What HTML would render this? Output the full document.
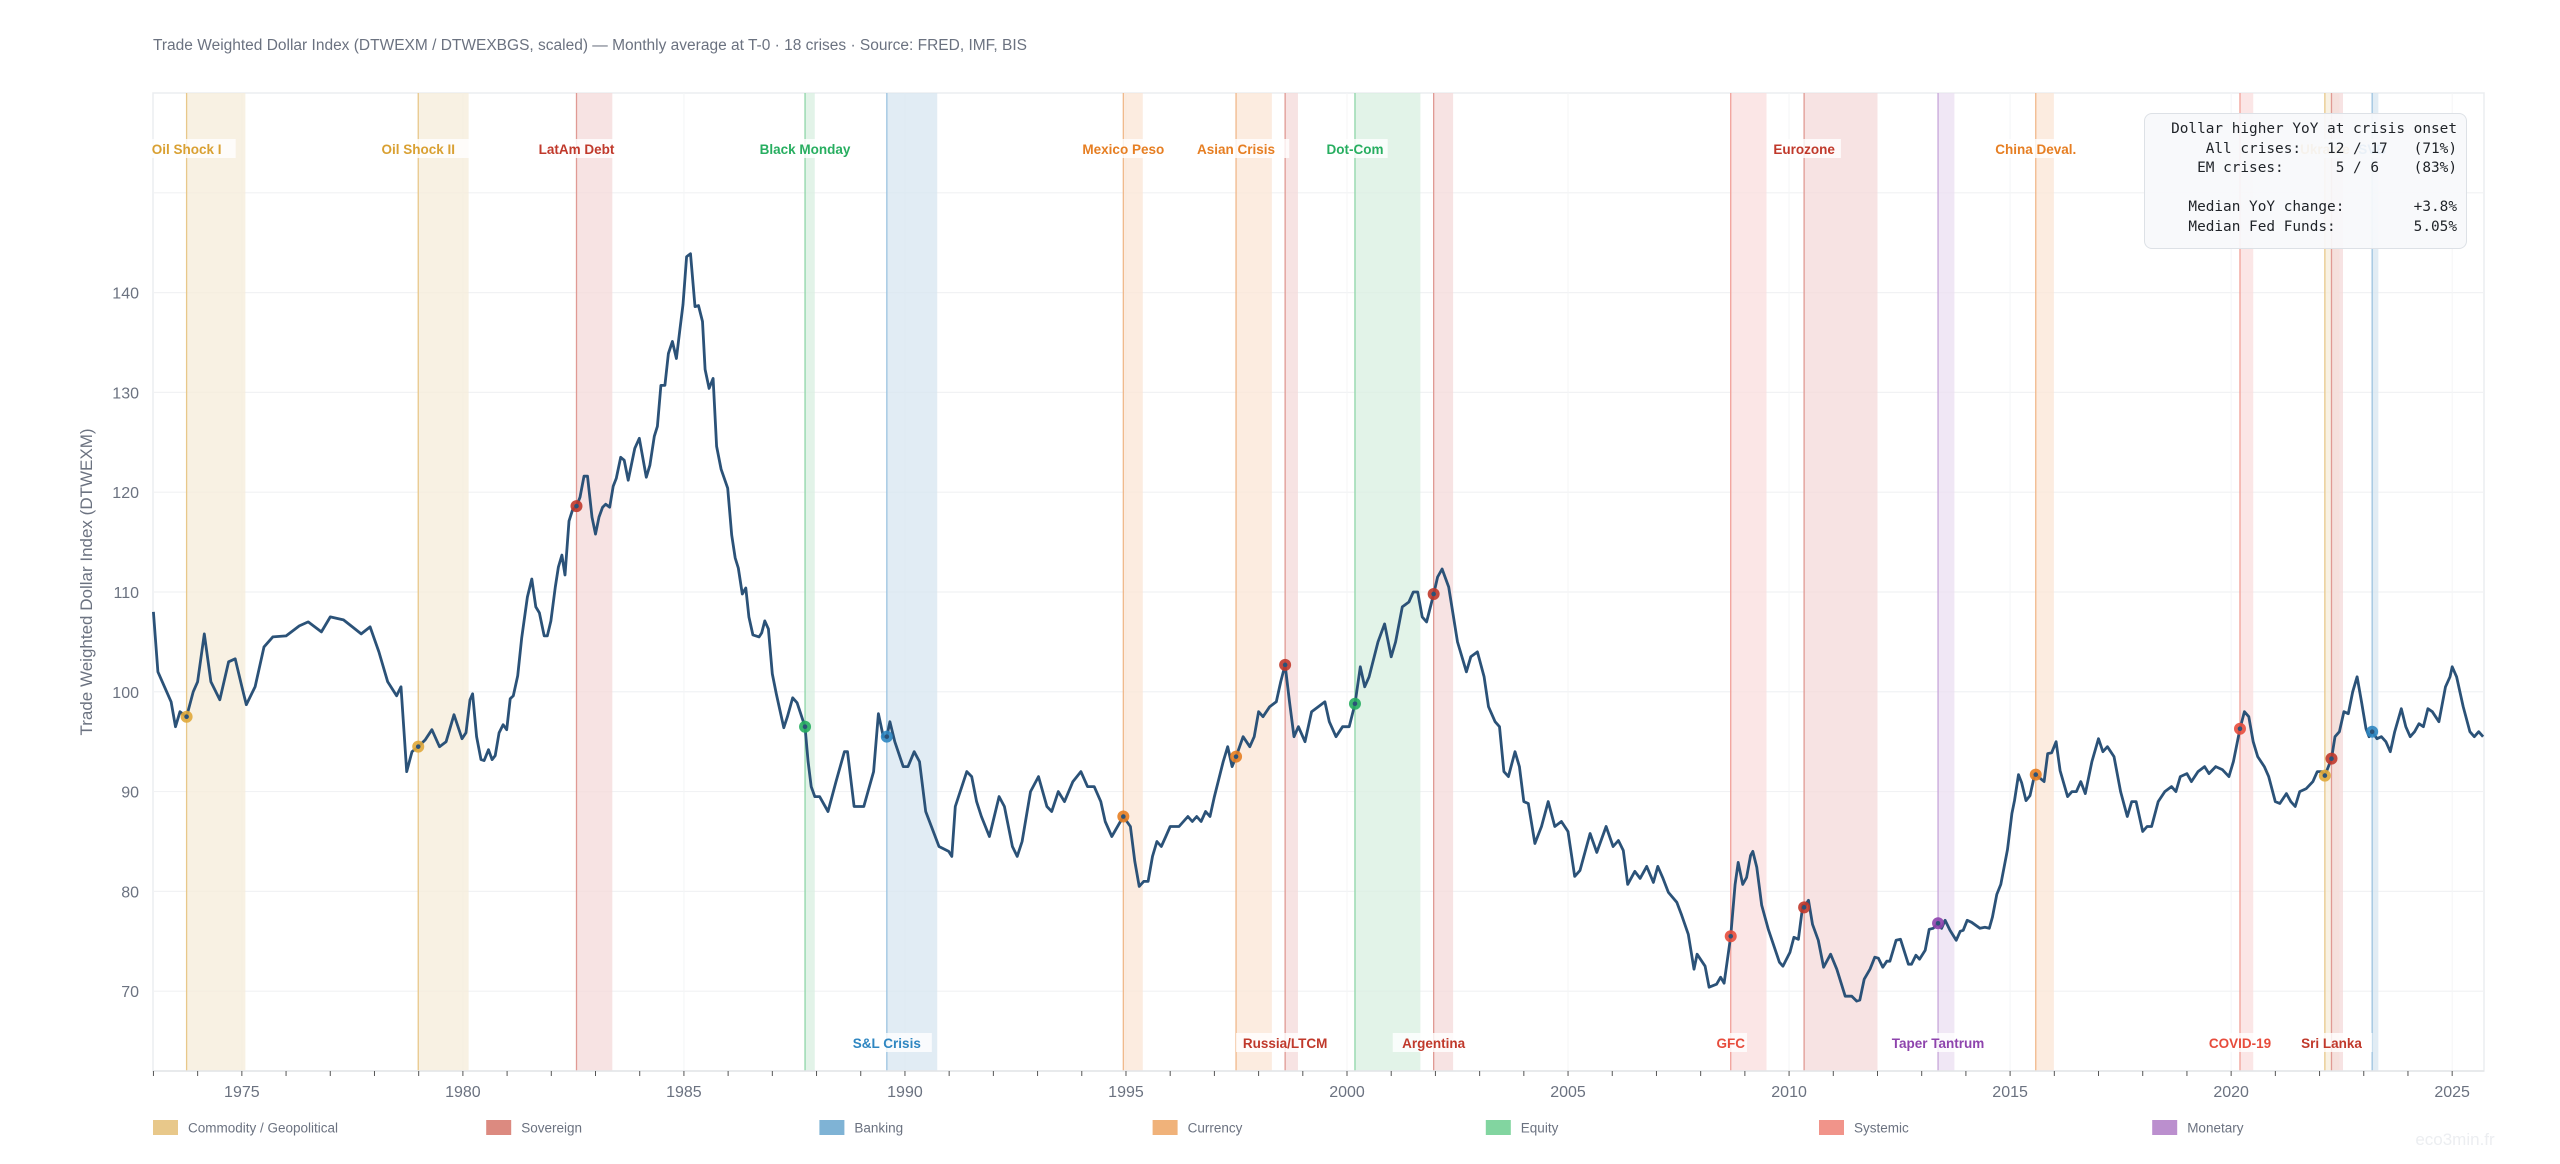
<!DOCTYPE html>
<html><head><meta charset="utf-8">
<style>
html,body{margin:0;padding:0;background:#fff;}
body{width:2560px;height:1164px;overflow:hidden;position:relative;font-family:"Liberation Sans","DejaVu Sans",sans-serif;}
svg{position:absolute;left:0;top:0;}
#stats{position:absolute;left:2144px;top:113px;width:323px;height:136px;box-sizing:border-box;background:rgba(248,249,251,0.93);border:1.5px solid #dde1e6;border-radius:8px;}
#stats pre{margin:0;position:absolute;right:9px;top:6px;font-family:"DejaVu Sans Mono","Liberation Mono",monospace;font-size:14.4px;line-height:19.6px;color:#1f2328;text-align:right;}
</style></head>
<body>
<svg id="chart" width="2560" height="1164"></svg>
<div id="stats"><pre>Dollar higher YoY at crisis onset
All crises:   12 / 17   (71%)
EM crises:      5 / 6    (83%)

Median YoY change:        +3.8%
Median Fed Funds:         5.05%</pre></div>
<script>
const years=[
1973.0,1973.1,1973.25,1973.4,1973.5,1973.6,1973.75,1973.9,1974.0,1974.15,
1974.3,1974.5,1974.7,1974.85,1975.0,1975.1,1975.3,1975.5,1975.7,1976.0,
1976.3,1976.5,1976.8,1977.0,1977.3,1977.5,1977.7,1977.9,1978.1,1978.3,
1978.5,1978.6,1978.73,1978.85,1978.99,1979.15,1979.3,1979.47,1979.62,1979.8,
1979.98,1980.07,1980.16,1980.22,1980.31,1980.41,1980.48,1980.58,1980.66,1980.73,
1980.82,1980.91,1980.99,1981.07,1981.14,1981.24,1981.33,1981.46,1981.56,1981.65,
1981.73,1981.84,1981.91,1981.99,1982.09,1982.16,1982.24,1982.31,1982.4,1982.48,
1982.57,1982.65,1982.74,1982.82,1982.92,1983.0,1983.08,1983.16,1983.23,1983.32,
1983.4,1983.47,1983.57,1983.65,1983.74,1983.89,1983.99,1984.15,1984.23,1984.33,
1984.4,1984.48,1984.57,1984.65,1984.74,1984.83,1984.91,1984.98,1985.06,1985.15,
1985.25,1985.33,1985.42,1985.48,1985.57,1985.66,1985.74,1985.84,1985.99,1986.08,
1986.16,1986.23,1986.32,1986.4,1986.47,1986.56,1986.7,1986.76,1986.83,1986.91,
1987.0,1987.09,1987.17,1987.26,1987.34,1987.46,1987.56,1987.74,1987.81,1987.88,
1987.96,1988.07,1988.26,1988.44,1988.63,1988.7,1988.85,1988.99,1989.07,1989.29,
1989.4,1989.51,1989.59,1989.66,1989.77,1989.96,1990.07,1990.21,1990.33,1990.47,
1990.77,1990.99,1991.06,1991.14,1991.25,1991.4,1991.51,1991.62,1991.73,1991.91,
1992.13,1992.25,1992.43,1992.54,1992.65,1992.84,1993.02,1993.21,1993.32,1993.47,
1993.61,1993.8,1993.98,1994.13,1994.28,1994.43,1994.53,1994.68,1994.94,1995.1,
1995.2,1995.3,1995.4,1995.5,1995.6,1995.7,1995.8,1995.9,1996.0,1996.2,
1996.4,1996.5,1996.6,1996.7,1996.8,1996.9,1997.0,1997.2,1997.3,1997.4,
1997.49,1997.65,1997.8,1997.9,1998.0,1998.1,1998.25,1998.4,1998.5,1998.6,
1998.7,1998.8,1998.9,1999.05,1999.2,1999.35,1999.5,1999.6,1999.75,1999.9,
2000.05,2000.18,2000.3,2000.4,2000.5,2000.7,2000.85,2001.0,2001.1,2001.25,
2001.4,2001.5,2001.6,2001.7,2001.8,2001.96,2002.05,2002.15,2002.3,2002.5,
2002.7,2002.8,2002.95,2003.1,2003.2,2003.35,2003.45,2003.55,2003.65,2003.8,
2003.9,2004.0,2004.1,2004.25,2004.4,2004.55,2004.7,2004.85,2005.0,2005.15,
2005.27,2005.5,2005.65,2005.86,2006.02,2006.14,2006.25,2006.35,2006.51,2006.63,
2006.78,2006.93,2007.03,2007.14,2007.27,2007.46,2007.57,2007.72,2007.85,2007.92,
2008.1,2008.19,2008.36,2008.45,2008.53,2008.68,2008.78,2008.85,2008.95,2009.04,
2009.13,2009.18,2009.27,2009.38,2009.53,2009.78,2009.86,2010.02,2010.11,2010.21,
2010.31,2010.34,2010.44,2010.53,2010.66,2010.78,2010.94,2011.08,2011.27,2011.42,
2011.53,2011.6,2011.7,2011.83,2011.94,2012.02,2012.12,2012.21,2012.28,2012.42,
2012.52,2012.7,2012.77,2012.87,2012.95,2013.08,2013.17,2013.26,2013.37,2013.45,
2013.53,2013.64,2013.78,2013.87,2013.94,2014.03,2014.13,2014.32,2014.43,2014.53,
2014.6,2014.7,2014.79,2014.94,2015.04,2015.1,2015.19,2015.26,2015.36,2015.45,
2015.54,2015.58,2015.77,2015.85,2015.94,2016.04,2016.13,2016.3,2016.4,2016.5,
2016.6,2016.7,2016.85,2017.0,2017.1,2017.2,2017.35,2017.5,2017.65,2017.75,
2017.85,2018.0,2018.1,2018.2,2018.35,2018.5,2018.65,2018.75,2018.85,2019.0,
2019.1,2019.25,2019.4,2019.5,2019.65,2019.8,2019.95,2020.05,2020.2,2020.3,
2020.4,2020.5,2020.6,2020.75,2020.85,2021.0,2021.1,2021.25,2021.35,2021.45,
2021.55,2021.7,2021.85,2021.95,2022.05,2022.12,2022.27,2022.35,2022.45,2022.55,
2022.65,2022.75,2022.85,2022.95,2023.05,2023.12,2023.19,2023.3,2023.4,2023.5,
2023.6,2023.7,2023.85,2023.95,2024.05,2024.15,2024.25,2024.35,2024.45,2024.55,
2024.7,2024.85,2024.95,2025.0,2025.1,2025.25,2025.4,2025.5,2025.6,2025.7];
const values=[
108,102,100.5,99,96.5,98,97.5,100,101,105.8,
101,99.2,103,103.3,100.5,98.7,100.5,104.5,105.5,105.6,
106.6,107,106,107.5,107.2,106.5,105.8,106.5,104,101,
99.6,100.5,92,94,94.5,95.2,96.2,94.5,95,97.7,
95.3,95.9,99.2,99.8,95.5,93.2,93.1,94.2,93.2,93.6,
95.9,96.7,96.2,99.3,99.6,101.6,105.4,109.5,111.3,108.5,
107.9,105.6,105.6,107.1,110.5,112.5,113.7,111.7,117.1,118.2,
118.6,119.5,121.6,121.6,117.5,115.8,117.5,118.5,118.8,118.5,
120.6,121.4,123.5,123.2,121.2,124.4,125.4,121.5,122.7,125.6,
126.6,130.7,130.7,133.9,135.1,133.4,136.3,138.8,143.6,143.9,
138.6,138.7,137.1,132.3,130.4,131.4,124.6,122.3,120.4,115.7,
113.4,112.4,109.8,110.4,107.5,105.7,105.5,105.9,107.1,106.3,
101.8,99.8,98.2,96.4,97.5,99.4,98.9,96.5,93,90.5,
89.5,89.5,88,91,94,94,88.5,88.5,88.5,92,
97.8,95.5,95.5,97,95,92.5,92.5,94,93,88,
84.5,84,83.5,88.5,90,92,91.5,89,87.5,85.5,
89.5,88.5,84.5,83.5,85,90,91.5,88.5,88,90,
89,91,92,90.5,90.5,89,87,85.5,87.5,86.5,
83,80.5,81,81,83.5,85,84.5,85.5,86.5,86.5,
87.5,87,87.5,87,88,87.5,89.5,93,94.5,92.5,
93.5,95.5,94.5,95.5,98,97.5,98.5,99,101,102.7,
99,95.5,96.5,95,98,98.5,99,97,95.5,96.5,
96.5,98.8,102.5,100.5,101.5,105,106.8,103.5,105,108.5,
109,110,110,107.5,107,109.8,111.5,112.3,110.5,105,
102,103.5,104,101.5,98.5,97,96.5,92,91.5,94,
92.5,89,88.8,84.8,86.5,89,86.5,87,86,81.5,
82.1,85.8,83.9,86.5,84.5,85.1,84.1,80.7,82,81.3,
82.5,80.9,82.5,81.4,79.9,78.9,77.6,75.7,72.2,73.7,
72.5,70.4,70.7,71.4,70.8,75.5,80.7,82.9,80.7,81.4,
83.6,84,82.4,78.6,76.2,72.9,72.5,73.9,75.4,75.2,
78.6,78.4,79.1,76.7,75.1,72.4,73.7,72.2,69.5,69.5,
69,69.1,71.2,72.2,73.4,73.3,72.4,73,73,75.1,
75.2,72.7,72.7,73.6,73.2,74.1,76.2,76.3,76.8,76.3,
77.1,76.1,75.1,76,76.1,77.1,76.9,76.3,76.4,76.3,
77.4,79.7,80.7,84.2,87.8,89.1,91.7,90.9,89.1,89.6,
91.4,91.7,91,93.8,93.9,95,92.1,89.5,90,90,
91,89.8,93,95.3,94,94.5,93.5,90,87.5,89,
89,86,86.5,86.5,89,90,90.5,90,91.5,91.8,
91,92,92.5,91.8,92.5,92.2,91.5,93,96.3,98,
97.5,95,93.5,92.5,91.5,89,88.8,89.8,89,88.5,
90,90.3,91,92,92,91.6,93.3,95.5,96,98,
97.8,100,101.5,99,96.3,95.5,96,95.3,95.5,95,
94,96,98.3,96.5,95.5,96,96.8,96.5,98.3,98,
97,100.5,101.5,102.5,101.5,98.5,96,95.5,96,95.5];
const crisisNames=["Oil Shock I","Oil Shock II","LatAm Debt","Black Monday","S&L Crisis","Mexico Peso","Asian Crisis","Russia/LTCM","Dot-Com","Argentina","GFC","Eurozone","Taper Tantrum","China Deval.","COVID-19","Ukraine","Sri Lanka","SVB"];
const crisisStart=[1973.75,1978.99,1982.57,1987.74,1989.59,1994.94,1997.49,1998.6,2000.18,2001.96,2008.68,2010.34,2013.37,2015.58,2020.2,2022.12,2022.27,2023.19];
const crisisEnd=[1975.08,1980.13,1983.38,1987.96,1990.73,1995.38,1998.3,1998.89,2001.66,2002.4,2009.49,2012.0,2013.74,2015.99,2020.5,2022.45,2022.53,2023.33];
const crisisType=["com","com","sov","eq","bank","cur","cur","sov","eq","sov","sys","sov","mon","cur","sys","com","sov","bank"];
const crisisLabelPos=["top","top","top","top","bottom","top","top","bottom","top","bottom","bottom","top","bottom","top","bottom","top","bottom","top"];
const yTicks=[70,80,90,100,110,120,130,140];
const xTicks=[1975,1980,1985,1990,1995,2000,2005,2010,2015,2020,2025];
const legendLabels=["Commodity / Geopolitical","Sovereign","Banking","Currency","Equity","Systemic","Monetary"];
const legendTypes=["com","sov","bank","cur","eq","sys","mon"];

const TYPE={com:{sw:"#e8c88a",fill:"#f5ecd9",line:"#e8c88a",txt:"#d9a032",mk:"#e0a83a"},
sov:{sw:"#dc8a80",fill:"#f4dada",line:"#e09a94",txt:"#c0392b",mk:"#c0392b"},
bank:{sw:"#7fb3d5",fill:"#d7e6f0",line:"#9cc3e0",txt:"#2e86c1",mk:"#2e86c1"},
cur:{sw:"#f0b27a",fill:"#fbe6d6",line:"#f0b88a",txt:"#e67e22",mk:"#e67e22"},
eq:{sw:"#82d5a0",fill:"#d8efe0",line:"#8fd6a8",txt:"#27ae60",mk:"#27ae60"},
sys:{sw:"#f1948a",fill:"#fadede",line:"#f1a098",txt:"#e74c3c",mk:"#e74c3c"},
mon:{sw:"#bb8fce",fill:"#ebdff2",line:"#c9a6da",txt:"#8e44ad",mk:"#8e44ad"}};

const L=153,R=2484,T=93,B=1071,X0=1972.99,X1=2025.72,Y0=62,Y1=160;
const x=v=>L+(v-X0)/(X1-X0)*(R-L);
const y=v=>B-(v-Y0)/(Y1-Y0)*(B-T);
const NS="http://www.w3.org/2000/svg";
const svg=document.getElementById("chart");
function mk(tag,attrs,parent){const e=document.createElementNS(NS,tag);for(const k in attrs)e.setAttribute(k,attrs[k]);(parent||svg).appendChild(e);return e;}
function interp(t){for(let i=1;i<years.length;i++){if(years[i]>=t){const f=(t-years[i-1])/(years[i]-years[i-1]);return values[i-1]+f*(values[i]-values[i-1]);}}return values[values.length-1];}

let t=mk("text",{x:153,y:50,"font-size":"15.5","fill":"#6b7280"});
t.textContent="Trade Weighted Dollar Index (DTWEXM / DTWEXBGS, scaled) — Monthly average at T-0  ·  18 crises  ·  Source: FRED, IMF, BIS";



let fr=mk("rect",{x:L,y:T,width:R-L,height:B-T,fill:"#fff",stroke:"#ebedf0","stroke-width":1.5});



[70,80,90,100,110,120,130,140,150].forEach(v=>{const g=mk("line",{x1:L,x2:R,y1:y(v),y2:y(v),stroke:"#f1f2f4","stroke-width":1.2});

});
xTicks.forEach(v=>{const g=mk("line",{x1:x(v),x2:x(v),y1:T,y2:B,stroke:"#f4f5f6","stroke-width":1});

});

crisisNames.forEach((n,i)=>{const c=TYPE[crisisType[i]];
const r=mk("rect",{x:x(crisisStart[i]),y:T,width:x(crisisEnd[i])-x(crisisStart[i]),height:B-T,fill:c.fill,opacity:0.75});


const ln=mk("line",{x1:x(crisisStart[i]),x2:x(crisisStart[i]),y1:T,y2:B,stroke:c.line,"stroke-width":1.3});

});

let d="";years.forEach((yr,i)=>{d+=(i?"L":"M")+x(yr).toFixed(1)+","+y(values[i]).toFixed(1);});
const path=mk("path",{d:d,fill:"none",stroke:"#2b5278","stroke-width":2.8,"stroke-linejoin":"round"});



crisisNames.forEach((n,i)=>{const c=TYPE[crisisType[i]];const v=interp(crisisStart[i]);
const o=mk("circle",{cx:x(crisisStart[i]),cy:y(v),r:6,fill:c.mk,opacity:0.9});


const ic=mk("circle",{cx:x(crisisStart[i]),cy:y(v),r:2.3,fill:"#2b5278"});

});

crisisNames.forEach((n,i)=>{const c=TYPE[crisisType[i]];const cx=x(crisisStart[i]);const cy=crisisLabelPos[i]==="top"?152:1046;
const w=n.length*8.2+8;
const bg=mk("rect",{x:cx-w/2,y:cy-13,width:w,height:19,fill:"#fff",opacity:0.8});


const tx=mk("text",{x:cx,y:cy+2,"text-anchor":"middle","font-size":"13.5","font-weight":"bold",fill:c.txt});
tx.textContent=n;

});

yTicks.forEach(v=>{const tx=mk("text",{x:139,y:y(v)+6,"text-anchor":"end","font-size":"16",fill:"#6b7280"});tx.textContent=v;

});
const yl=mk("text",{x:0,y:0,"text-anchor":"middle","font-size":"17",fill:"#6b7280",transform:"translate(92,"+((T+B)/2)+") rotate(-90)"});
yl.textContent="Trade Weighted Dollar Index (DTWEXM)";



const ax=mk("line",{x1:L,x2:R,y1:B,y2:B,stroke:"#e3e5e8","stroke-width":1.5});


for(let yr=1973;yr<=2025;yr++){const tk=mk("line",{x1:x(yr),x2:x(yr),y1:B,y2:B+5,stroke:"#555","stroke-width":1});

}
xTicks.forEach(v=>{const tx=mk("text",{x:x(v),y:1097,"text-anchor":"middle","font-size":"16",fill:"#6b7280"});tx.textContent=v;

});

legendLabels.forEach((lab,i)=>{const lx=153+i*333.2;const c=TYPE[legendTypes[i]];
const sw=mk("rect",{x:lx,y:1120,width:25,height:15,fill:c.sw});


const tx=mk("text",{x:lx+35,y:1132.5,"font-size":"13.5",fill:"#6b7280"});tx.textContent=lab;

});

const wm=mk("text",{x:2455,y:1145,"text-anchor":"middle","font-size":"17",fill:"#eceef1"});wm.textContent="eco3min.fr";


</script>
</body></html>
